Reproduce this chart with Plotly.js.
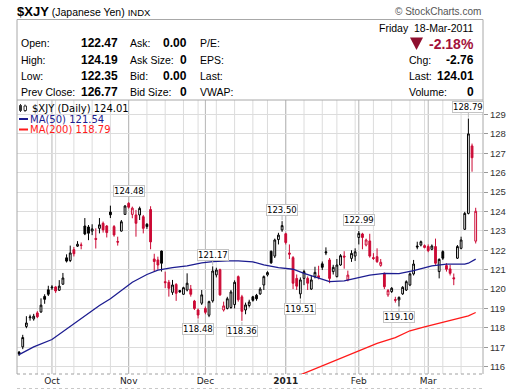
<!DOCTYPE html>
<html><head><meta charset="utf-8">
<script src="https://cdn.plot.ly/plotly-3.0.1.min.js"></script>
<style>html,body{margin:0;padding:0;background:#fff}#chart{width:520px;height:391px}</style>
</head><body><div id="chart"></div>
<script>
// ---- calendar ----
const firstDay = '2010-09-20', lastDay = '2011-03-18';
const holidays = ['2010-11-25','2010-12-24','2011-01-17','2011-02-21'];
const monthNames = ['Jan','Feb','Mar','Apr','May','Jun','Jul','Aug','Sep','Oct','Nov','Dec'];

// ---- daily OHLC (trading-day order) ----
const openP = [116.75,117.02,118.07,118.52,118.46,118.77,118.82,119.62,119.96,120.06,
120.11,119.94,120.25,121.61,121.47,122.03,122.21,122.25,123.25,123.20,
122.99,122.61,123.13,123.39,123.25,123.97,123.22,122.45,122.99,123.85,
124.42,123.85,123.82,123.82,123.73,123.34,124.10,121.55,121.50,121.96,
120.38,120.35,119.83,120.24,119.92,119.73,119.95,120.00,119.38,118.92,
119.27,119.00,118.65,119.39,120.73,121.00,118.92,119.00,119.05,119.20,
120.64,119.60,118.92,119.15,119.60,119.68,119.75,120.21,120.73,121.95,
121.70,122.55,123.05,122.85,121.86,121.62,120.55,119.75,120.55,120.55,
120.00,120.64,120.68,121.30,121.92,121.50,120.90,120.64,121.24,121.70,
120.47,121.58,121.70,122.66,122.84,122.27,122.48,121.62,121.67,121.22,
120.81,119.70,119.87,119.46,119.44,119.75,119.95,120.21,120.78,122.22,
122.27,122.14,122.19,122.05,122.19,120.90,121.93,121.21,121.04,120.58,
121.59,122.10,123.08,123.90,127.38,122.47];
const highP = [116.80,117.64,118.60,118.68,118.72,118.86,119.52,119.73,120.17,120.20,
120.15,120.46,120.83,121.79,122.24,122.17,122.47,122.40,123.66,123.30,
123.34,123.13,123.66,123.48,123.30,124.30,123.30,122.70,123.56,124.33,
124.48,124.25,124.08,124.25,123.82,123.40,124.27,121.82,121.67,121.98,
120.90,120.47,120.47,120.30,119.95,120.12,120.81,120.21,119.44,119.00,
119.95,119.10,119.40,121.17,121.10,121.05,119.35,119.60,119.95,120.45,
120.70,119.70,119.30,119.45,119.65,119.75,120.10,120.70,120.92,121.98,
122.60,122.90,123.50,122.90,122.30,121.70,120.75,120.60,121.00,120.65,
120.70,121.15,121.20,121.42,122.15,121.60,121.25,121.55,121.80,121.95,
120.95,122.00,122.10,122.99,122.90,122.60,122.85,121.85,122.10,121.55,
120.85,120.00,120.10,119.60,119.62,120.15,120.45,120.85,121.50,122.44,
122.50,122.30,122.30,122.30,122.60,121.58,122.00,121.33,121.24,120.80,
122.27,122.70,123.98,128.79,127.50,124.19];
const lowP = [116.55,116.90,117.98,118.37,118.37,118.50,118.77,119.24,119.64,119.95,
119.80,119.90,120.22,121.37,121.39,121.68,122.17,122.05,122.78,122.52,
122.78,122.09,122.87,122.91,122.66,123.66,122.70,122.24,122.96,123.82,
124.15,123.65,122.70,123.56,122.87,123.10,122.05,120.90,121.00,120.90,
120.05,119.61,119.70,119.39,119.80,119.70,119.88,119.61,118.92,118.48,
119.18,118.70,118.55,119.30,120.60,119.65,118.84,118.95,118.98,119.00,
119.35,118.36,118.70,119.05,119.35,119.40,119.70,119.95,120.65,121.30,
121.60,122.30,122.95,122.30,121.55,120.00,119.95,119.51,120.20,119.95,
119.95,120.55,120.50,120.98,121.75,120.30,120.75,120.60,121.20,121.05,
120.40,121.40,121.45,122.30,122.05,122.20,121.62,121.50,121.35,121.15,
120.00,119.60,119.80,119.30,119.10,119.70,119.90,120.15,120.70,122.05,
122.20,122.10,121.90,122.00,121.25,120.55,121.50,120.90,120.70,120.20,
121.55,122.05,123.05,123.85,126.05,122.35];
const closeP = [116.65,117.50,118.25,118.56,118.60,118.57,119.17,119.47,119.73,120.10,
119.90,120.15,120.57,121.44,121.86,121.82,122.31,122.27,122.84,122.88,
123.10,122.56,123.31,123.05,122.91,123.83,122.79,122.42,123.47,124.28,
124.22,124.17,123.39,124.16,123.13,123.22,122.43,121.42,121.24,121.33,
120.33,120.04,120.21,119.78,119.86,120.07,120.30,119.73,119.00,118.66,
119.70,118.80,119.35,120.93,120.98,119.70,119.13,119.50,119.85,120.35,
119.45,118.85,119.18,119.33,119.42,119.50,120.00,120.64,120.85,121.35,
122.53,122.78,123.27,122.40,121.80,120.30,120.15,120.47,120.90,120.30,
120.47,120.86,120.60,121.12,121.87,120.55,121.12,121.24,121.72,121.65,
120.72,121.84,121.92,122.87,122.66,122.53,121.70,121.58,121.41,121.38,
120.12,119.92,120.04,119.42,119.57,120.09,120.38,120.78,121.29,122.17,
122.44,122.24,121.98,122.22,121.33,121.53,121.59,121.02,120.81,120.53,
122.19,122.53,123.90,128.00,126.77,124.01];

// ---- moving averages (trading-day index, value) ----
const ma50Day = [0,4,9,13,18,22,25,28,31,35,38,42,46,50,53,57,60,64,67,71,75,78,82,85,89,92,96,100,104,108,113,117,122,123,125];
const ma50 = [116.62,117.02,117.40,117.95,118.60,119.15,119.50,119.92,120.35,120.75,120.98,121.10,121.20,121.35,121.41,121.45,121.45,121.40,121.25,121.10,121.02,120.81,120.55,120.38,120.42,120.55,120.72,120.81,120.80,120.95,121.20,121.28,121.28,121.33,121.54];
const ma200Day = [76,81,85,89,94,98,103,107,111,116,121,123,125];
const ma200 = [115.50,115.88,116.20,116.52,116.90,117.20,117.50,117.85,118.05,118.30,118.52,118.62,118.79];

// ---- high / low callouts ----
const calloutDay = [30,53,72,93,123,49,61,77,104];
const calloutSide = ['high','high','high','high','high','low','low','low','low'];

// ---- build calendar ----
function ymd(d){return d.toISOString().slice(0,10);}
const dates = [];
for (let d = new Date(firstDay+'T00:00:00Z'); ymd(d) <= lastDay; d.setUTCDate(d.getUTCDate()+1)) {
  const wd = d.getUTCDay();
  if (wd === 0 || wd === 6) continue;
  if (holidays.includes(ymd(d))) continue;
  dates.push(ymd(d));
}
const idx = dates.map((_, i) => i);
const monthIdx = [], monthText = [], weekIdx = [];
for (let i = 1; i < dates.length; i++) {
  const m = +dates[i].slice(5,7), mp = +dates[i-1].slice(5,7);
  if (m !== mp) { monthIdx.push(i); monthText.push(m === 1 ? '<b>' + dates[i].slice(0,4) + '</b>' : monthNames[m-1]); }
  const wd = new Date(dates[i]+'T00:00:00Z').getUTCDay(), wdp = new Date(dates[i-1]+'T00:00:00Z').getUTCDay();
  if (wd < wdp) weekIdx.push(i);
}

// ---- split candles by close vs previous close (StockCharts colouring) ----
function subset(pred){
  const o = {x:[],open:[],high:[],low:[],close:[]};
  idx.forEach(i => { if (pred(i)) { o.x.push(i); o.open.push(openP[i]); o.high.push(highP[i]); o.low.push(lowP[i]); o.close.push(closeP[i]); } });
  return o;
}
const upDay = i => i === 0 || closeP[i] >= closeP[i-1];
const blk = subset(upDay), rd = subset(i => !upDay(i));
const RED = '#cc0a35';
const traces = [
  Object.assign({type:'candlestick', whiskerwidth:0, hoverinfo:'skip', showlegend:false,
    increasing:{line:{color:'#000',width:1}, fillcolor:'#ffffff'},
    decreasing:{line:{color:'#000',width:1}, fillcolor:'#000000'}}, blk),
  Object.assign({type:'candlestick', whiskerwidth:0, hoverinfo:'skip', showlegend:false,
    increasing:{line:{color:RED,width:1}, fillcolor:'#ffffff'},
    decreasing:{line:{color:RED,width:1}, fillcolor:RED}}, rd),
  {type:'scatter', mode:'lines', x:ma50Day, y:ma50, line:{color:'#1c1c90', width:1.3}, hoverinfo:'skip', showlegend:false},
  {type:'scatter', mode:'lines', x:ma200Day, y:ma200, line:{color:'#ff1a1a', width:1.3}, hoverinfo:'skip', showlegend:false}
];

// ---- pixel helpers for paper coordinates ----
const PL = 17, PR = 483, PT = 100, PB = 374;
const ax = p => (p - PL) / (PR - PL);
const ay = p => (PB - p) / (PB - PT);
const HF = 'Liberation Sans, Arial, sans-serif';
const VF = 'DejaVu Sans, Verdana, sans-serif';
function T(x, y, text, o){
  o = o || {};
  return {xref:'paper', yref:'paper', x:ax(x), y:ay(y), text:text, showarrow:false,
    xanchor:o.a || 'left', yanchor:'middle', borderpad:0,
    font:{family:o.f || HF, size:o.s || 10.5, color:o.c || '#000'}};
}

const last = closeP.length - 1;
const chg = closeP[last] - closeP[last-1];
const pct = chg / closeP[last-1] * 100;

const annotations = [
  T(16, 12, '<b><span style="font-size:13px">$XJY</span></b> (Japanese Yen) <span style="font-size:9.5px">INDX</span>', {s:10.5}),
  T(482, 12, '© StockCharts.com', {a:'right', s:10, c:'#555'}),
  T(475, 28, 'Friday\u00a0\u00a018-Mar-2011', {a:'right'}),
  T(20, 43.5, 'Open:'), T(20, 60, 'High:'), T(20, 76, 'Low:'), T(20, 92, 'Prev Close:'),
  T(119, 43.5, '<b>' + openP[last].toFixed(2) + '</b>', {a:'right', s:12}),
  T(119, 60, '<b>' + highP[last].toFixed(2) + '</b>', {a:'right', s:12}),
  T(119, 76, '<b>' + lowP[last].toFixed(2) + '</b>', {a:'right', s:12}),
  T(119, 92, '<b>' + closeP[last-1].toFixed(2) + '</b>', {a:'right', s:12}),
  T(129, 43.5, 'Ask:'), T(129, 60, 'Ask Size:'), T(129, 76, 'Bid:'), T(129, 92, 'Bid Size:'),
  T(188, 43.5, '<b>0.00</b>', {a:'right', s:12}), T(188, 60, '<b>0</b>', {a:'right', s:12}),
  T(188, 76, '<b>0.00</b>', {a:'right', s:12}), T(188, 92, '<b>0</b>', {a:'right', s:12}),
  T(199, 43.5, 'P/E:'), T(199, 60, 'EPS:'), T(199, 76, 'Last:'), T(199, 92, 'VWAP:'),
  T(475, 44, '<b>' + pct.toFixed(2) + '%</b>', {a:'right', s:14, c:'#a3113a'}),
  T(408, 60, 'Chg:'), T(475, 60, '<b>' + chg.toFixed(2) + '</b>', {a:'right', s:12}),
  T(408, 76, 'Last:'), T(475, 76, '<b>' + closeP[last].toFixed(2) + '</b>', {a:'right', s:12}),
  T(408, 92, 'Volume:'), T(475, 92, '<b>0</b>', {a:'right', s:12}),
  T(30.5, 108.5, '$XJY (Daily) ' + closeP[last].toFixed(2), {f:VF, s:10}),
  T(29, 119, 'MA(50) ' + ma50[ma50.length-1].toFixed(2), {f:VF, s:10, c:'#1c1c90'}),
  T(29, 129.5, 'MA(200) ' + ma200[ma200.length-1].toFixed(2), {f:VF, s:10, c:'#ff1a1a'})
];
calloutDay.forEach((d, k) => {
  const hi = calloutSide[k] === 'high';
  const v = hi ? highP[d] : lowP[d];
  annotations.push({xref:'x', yref:'y', x:d, y:v, text:v.toFixed(2), showarrow:true,
    arrowhead:0, arrowwidth:1, arrowcolor:'#bbbbbb', ax:0, ay: hi ? -11.5 : 10.5, standoff:1,
    bgcolor:'#ffffff', bordercolor:'#c4c4c4', borderwidth:1, borderpad:0,
    font:{family:VF, size:8.5, color:'#000'}});
});

const shapes = [];
weekIdx.forEach(i => shapes.push({type:'line', xref:'x', yref:'paper', x0:i, x1:i, y0:0, y1:1, layer:'below', line:{color:'#dcdcdc', width:1}}));
monthIdx.forEach(i => shapes.push({type:'line', xref:'x', yref:'paper', x0:i, x1:i, y0:0, y1:1, layer:'below', line:{color:'#b6b6b6', width:1}}));
// frame
shapes.push({type:'rect', xref:'paper', yref:'paper', x0:0, x1:1, y0:1, y1:ay(19.5), line:{color:'#a8a8a8', width:1}});
shapes.push({type:'line', xref:'paper', yref:'paper', x0:0, x1:0, y0:0, y1:1, line:{color:'#a8a8a8', width:1}});
shapes.push({type:'line', xref:'paper', yref:'paper', x0:1, x1:1, y0:0, y1:1, line:{color:'#a8a8a8', width:1}});
shapes.push({type:'line', xref:'paper', yref:'paper', x0:0, x1:1, y0:0, y1:0, line:{color:'#a0a0a0', width:1, dash:'dot'}});
shapes.push({type:'line', xref:'paper', yref:'paper', x0:0, x1:1, y0:ay(388.5), y1:ay(388.5), line:{color:'#c8c8c8', width:1, dash:'dot'}});
// down triangle
shapes.push({type:'path', xref:'paper', yref:'paper',
  path:'M' + ax(410) + ',' + ay(37.5) + ' L' + ax(423) + ',' + ay(37.5) + ' L' + ax(416.5) + ',' + ay(50) + ' Z',
  fillcolor:'#8e0f2f', line:{width:0}});
// legend icon
shapes.push({type:'line', xref:'paper', yref:'paper', x0:ax(20.5), x1:ax(20.5), y0:ay(104), y1:ay(112), line:{color:'#333', width:1}});
shapes.push({type:'rect', xref:'paper', yref:'paper', x0:ax(19.5), x1:ax(21.5), y0:ay(105.5), y1:ay(110.5), fillcolor:'#333', line:{color:'#333', width:1}});
shapes.push({type:'line', xref:'paper', yref:'paper', x0:ax(25), x1:ax(25), y0:ay(104.5), y1:ay(112), line:{color:'#333', width:1}});
shapes.push({type:'rect', xref:'paper', yref:'paper', x0:ax(24), x1:ax(26.5), y0:ay(106), y1:ay(110.5), fillcolor:'#fff', line:{color:'#333', width:1}});
// MA legend swatches
shapes.push({type:'line', xref:'paper', yref:'paper', x0:ax(19), x1:ax(28), y0:ay(119), y1:ay(119), line:{color:'#1c1c90', width:2}});
shapes.push({type:'line', xref:'paper', yref:'paper', x0:ax(19), x1:ax(28), y0:ay(129.5), y1:ay(129.5), line:{color:'#ff1a1a', width:2}});

const layout = {
  width:520, height:391, margin:{l:PL, r:520-PR, t:PT, b:391-PB, pad:0},
  paper_bgcolor:'#ffffff', plot_bgcolor:'#ffffff', showlegend:false, hovermode:false,
  xaxis:{range:[-0.57, 127.0], tickmode:'array', tickvals:monthIdx, ticktext:monthText,
    showgrid:false, zeroline:false, showline:false, ticks:'', rangeslider:{visible:false},
    tickfont:{family:VF, size:9, color:'#222'}, fixedrange:true},
  yaxis:{side:'right', range:[115.62, 129.747], tick0:0, dtick:1, showgrid:true, gridcolor:'#dcdcdc',
    zeroline:false, showline:false, ticks:'outside', ticklen:4, tickcolor:'#999',
    tickfont:{family:HF, size:9.5, color:'#333'}, fixedrange:true},
  annotations:annotations, shapes:shapes
};
Plotly.newPlot('chart', traces, layout, {displayModeBar:false, staticPlot:true});
</script>
</body></html>
